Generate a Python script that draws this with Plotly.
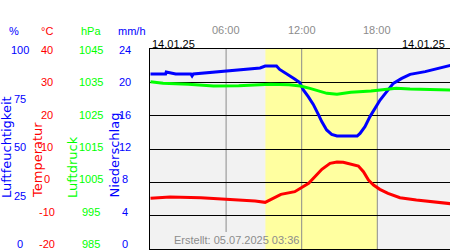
import plotly.graph_objects as go

# ---- data (hours since 00:00 on 14.01.25) ----
hum_h = [0.0, 1.2, 1.25, 2.0, 3.2, 3.3, 3.4, 5.4, 6.7, 8.7, 9.1, 10.0, 10.25, 10.65, 11.05, 11.44, 11.84,
         12.13, 12.52, 12.92, 13.32, 13.59, 13.98, 14.38, 14.8, 16.4, 16.63, 17.02, 17.42, 17.82,
         18.22, 18.75, 19.27, 19.94, 20.6, 21.8, 22.85, 23.5, 23.8]
hum_v = [87.5, 87.5, 88.5, 87.5, 87.5, 86.5, 87.5, 88.5, 89.5, 90.5, 91.5, 91.5, 89.8, 88.3, 86.7, 85.0, 83.2,
         79.5, 76.2, 72.3, 67.3, 63.7, 59.5, 57.3, 56.5, 56.5, 57.8, 61.2, 66.2, 70.3,
         74.5, 78.7, 82.8, 85.3, 87.3, 88.7, 90.3, 91.5, 91.8]

temp_h = [0.0, 1.55, 4.0, 5.8, 7.2, 8.3, 9.1, 9.35, 10.35, 11.45, 11.9, 12.55, 13.1, 13.6, 14.25,
          14.8, 15.3, 15.9, 16.5, 16.9, 17.3, 17.7, 18.2, 18.85, 19.8, 21.1, 22.4, 23.5, 23.8]
temp_v = [-4.8, -4.4, -4.6, -5.0, -5.3, -5.6, -6.0, -5.5, -3.6, -2.8, -1.8, -0.3, 1.9, 3.9, 5.7,
          6.1, 6.0, 5.4, 4.9, 3.2, 0.7, -0.8, -2.1, -3.3, -4.6, -5.3, -5.8, -6.3, -6.4]

pres_h = [0.0, 1.0, 3.0, 5.0, 7.0, 9.5, 11.0, 11.9, 12.65, 13.45, 14.0, 14.8, 15.9, 17.5, 18.2,
          19.5, 20.6, 22.4, 23.5, 23.8]
pres_v = [1035.2, 1034.7, 1034.4, 1033.9, 1034.0, 1034.4, 1034.3, 1033.9, 1033.2, 1032.2, 1031.7, 1031.4,
          1032.0, 1032.4, 1032.7, 1033.2, 1033.0, 1032.9, 1032.7, 1032.7]

daylight = [9.12, 18.0]
hour_ticks = [6, 12, 18]
hour_labels = ["06:00", "12:00", "18:00"]
date_label = "14.01.25"
created = "Erstellt: 05.07.2025 03:36"

hum_ticks = ["100", "75", "50", "25", "0"]
temp_ticks = ["40", "30", "20", "10", "0", "-10", "-20"]
pres_ticks = ["1045", "1035", "1025", "1015", "1005", "995", "985"]
prec_ticks = ["24", "20", "16", "12", "8", "4", "0"]

BLUE = "#0000ff"
RED = "#ff0000"
GREEN = "#00ff00"
GRAY = "#8c8c8c"
FONT = "Liberation Sans, Arial, sans-serif"

W, H = 450, 250
ML, MT, MB = 150, 49, 1

fig = go.Figure()
fig.add_trace(go.Scatter(x=pres_h, y=pres_v, yaxis="y3", mode="lines",
                         line=dict(color=GREEN, width=3), hoverinfo="skip"))
fig.add_trace(go.Scatter(x=hum_h, y=hum_v, yaxis="y", mode="lines",
                         line=dict(color=BLUE, width=3), hoverinfo="skip"))
fig.add_trace(go.Scatter(x=temp_h, y=temp_v, yaxis="y2", mode="lines",
                         line=dict(color=RED, width=3), hoverinfo="skip"))

x_end = (W - 150.5) / 12.6

def py(p):
    """pixel y -> paper y"""
    return 1 - (p - MT) / (H - MT - MB)

def px(p):
    """pixel x -> paper x"""
    return (p - ML) / (W - ML)

ann = []
# unit headers
for txt, x, c in [("%", 14, BLUE), ("°C", 47, RED), ("hPa", 91, GREEN), ("mm/h", 132, BLUE)]:
    ann.append(dict(text=txt, x=px(x), y=py(31), xref="paper", yref="paper",
                    xanchor="center", yanchor="middle", showarrow=False,
                    font=dict(color=c, size=11, family=FONT)))
# left tick labels
for i, t in enumerate(hum_ticks):
    ann.append(dict(text=t, x=px(20), y=py(50 + i * 48.5), xref="paper", yref="paper",
                    xanchor="center", yanchor="middle", showarrow=False,
                    font=dict(color=BLUE, size=11, family=FONT)))
for col, ticks, xc in [(RED, temp_ticks, 47), (GREEN, pres_ticks, 91), (BLUE, prec_ticks, 124.5)]:
    for i, t in enumerate(ticks):
        ann.append(dict(text=t, x=px(xc), y=py(50 + i * 32.33), xref="paper", yref="paper",
                        xanchor="center", yanchor="middle", showarrow=False,
                        font=dict(color=col, size=11, family=FONT)))
# rotated titles
for txt, x, c in [("Luftfeuchtigkeit", 6, BLUE), ("Temperatur", 37, RED),
                  ("Luftdruck", 72, GREEN), ("Niederschlag", 114, BLUE)]:
    ann.append(dict(text=txt, x=px(x), y=py(200), xref="paper", yref="paper",
                    xanchor="center", yanchor="bottom", textangle=-90, showarrow=False,
                    font=dict(color=c, size=13, family="DejaVu Sans, sans-serif")))
# hour labels
for h, lab in zip(hour_ticks, hour_labels):
    ann.append(dict(text=lab, x=h, y=py(30), xref="x", yref="paper",
                    xanchor="center", yanchor="middle", showarrow=False,
                    font=dict(color=GRAY, size=11, family=FONT)))
ann.append(dict(text=date_label, x=px(150), y=py(44), xref="paper", yref="paper",
                xanchor="left", yanchor="middle", showarrow=False,
                font=dict(color="black", size=11, family=FONT)))
ann.append(dict(text=date_label, x=px(447), y=py(44), xref="paper", yref="paper",
                xanchor="right", yanchor="middle", showarrow=False,
                font=dict(color="black", size=11, family=FONT)))
ann.append(dict(text=created, x=px(236), y=py(240), xref="paper", yref="paper",
                xanchor="center", yanchor="middle", showarrow=False,
                font=dict(color=GRAY, size=11, family=FONT)))

shapes = [dict(type="rect", x0=daylight[0], x1=daylight[1], y0=0, y1=1, xref="x", yref="paper",
               fillcolor="#ffffa0", line=dict(width=0), layer="below")]
for h in hour_ticks:
    y0 = py(232) if h == 6 else 0
    shapes.append(dict(type="line", x0=h, x1=h, y0=y0, y1=1, xref="x", yref="paper",
                       line=dict(color=GRAY, width=1), layer="below"))

fig.update_layout(
    width=W, height=H,
    margin=dict(l=ML, r=0, t=MT, b=MB, pad=0),
    paper_bgcolor="white", plot_bgcolor="#f2f2f2",
    showlegend=False,
    xaxis=dict(range=[-0.04, x_end], showgrid=False, zeroline=False, showticklabels=False,
               ticks="", showline=True, mirror=True, linecolor="black", linewidth=1),
    yaxis=dict(range=[0, 100], tickvals=[0, 100 / 6, 200 / 6, 50, 400 / 6, 500 / 6, 100],
               showgrid=True, gridcolor="black", gridwidth=1, zeroline=False,
               showticklabels=False, ticks="", showline=True, linecolor="black", linewidth=1),
    yaxis2=dict(range=[-20, 40], overlaying="y", visible=False),
    yaxis3=dict(range=[985, 1045], overlaying="y", visible=False),
    annotations=ann,
    shapes=shapes,
)

fig.write_html("out.html")
